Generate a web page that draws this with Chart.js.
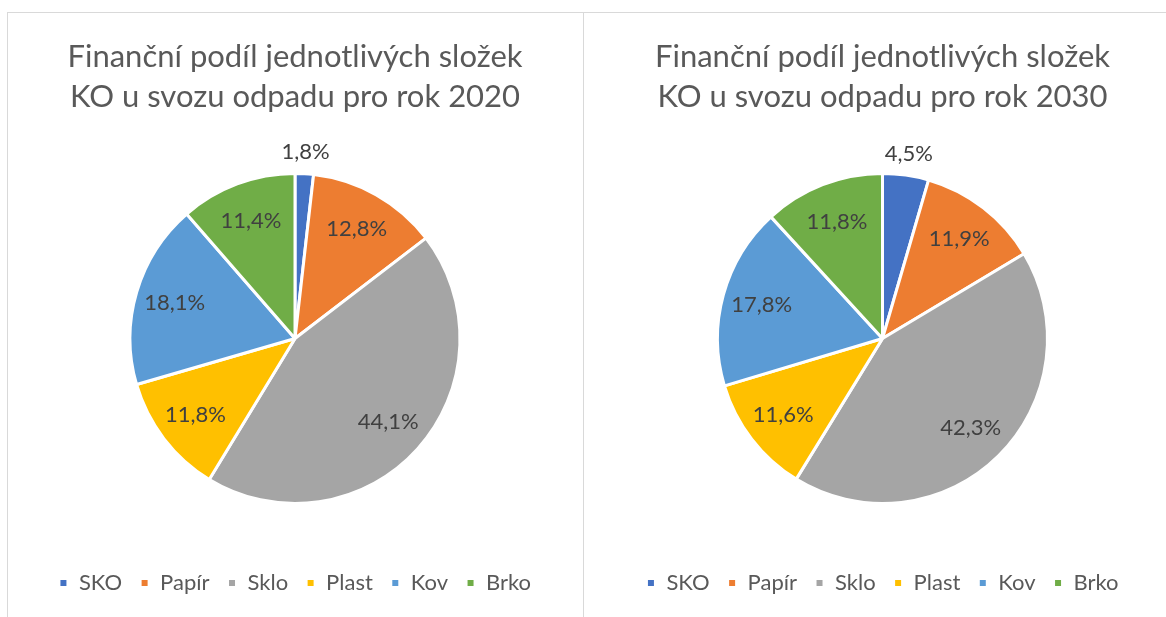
<!DOCTYPE html>
<html>
<head>
<meta charset="utf-8">
<script src="https://cdn.jsdelivr.net/npm/chart.js@4"></script>
<style>
  html, body { margin: 0; padding: 0; background: #fff; }
  body { width: 1166px; height: 617px; position: relative; overflow: hidden; }
  .panel { position: absolute; top: 12px; height: 620px; border: 1.5px solid #d9d9d9; box-sizing: border-box; background: #fff; }
  #p2020 { left: 7px; width: 577px; }
  #p2030 { left: 583px; width: 600px; }
  .panel canvas { position: absolute; left: 0; top: 0; }
</style>
</head>
<body>
<div class="panel" id="p2020"><canvas id="chart2020" width="574" height="604"></canvas></div>
<div class="panel" id="p2030"><canvas id="chart2030" width="597" height="604"></canvas></div>
<script>
// waste components and their share of collection costs (%)
const categories = ['SKO', 'Papír', 'Sklo', 'Plast', 'Kov', 'Brko'];
const share2020 = [1.8, 12.8, 44.1, 11.8, 18.1, 11.4];
const share2030 = [4.5, 11.9, 42.3, 11.6, 17.8, 11.8];
const colors = ['#4472C4', '#ED7D31', '#A5A5A5', '#FFC000', '#5B9BD5', '#70AD47'];

const fontFamily = "Lato, 'Open Sans', sans-serif";

/* labels with the percentage, inside the slice, outside for tiny ones */
const sliceLabels = {
  id: 'sliceLabels',
  afterDatasetsDraw(chart) {
    const ctx = chart.ctx;
    const meta = chart.getDatasetMeta(0);
    const values = chart.data.datasets[0].data;
    ctx.save();
    ctx.font = '22px ' + fontFamily;
    ctx.fillStyle = '#404040';
    ctx.textAlign = 'center';
    ctx.textBaseline = 'middle';
    meta.data.forEach((arc, i) => {
      const p = arc.getProps(['x', 'y', 'startAngle', 'endAngle', 'outerRadius'], true);
      const mid = (p.startAngle + p.endAngle) / 2;
      const f = values[i] < 5 ? 1.13 : 0.76;
      const x = p.x + Math.cos(mid) * p.outerRadius * f;
      const y = p.y + Math.sin(mid) * p.outerRadius * f;
      ctx.fillText(values[i].toFixed(1).replace('.', ',') + '%', x, y);
    });
    ctx.restore();
  }
};

function initChart(target, values, year) {
  return new Chart(target, {
    type: 'pie',
    data: {
      labels: categories,
      datasets: [{
        data: values,
        backgroundColor: colors,
        borderColor: '#ffffff',
        borderWidth: 3
      }]
    },
    options: {
      responsive: false,
      animation: false,
      radius: 165,
      layout: { padding: { top: 0, bottom: 13 } },
      plugins: {
        title: {
          display: true,
          text: ['Finanční podíl jednotlivých složek', 'KO u svozu odpadu pro rok ' + year],
          color: '#595959',
          font: { family: fontFamily, size: 31, weight: 'normal', lineHeight: 1.29 },
          padding: { top: 24, bottom: 6 }
        },
        legend: {
          position: 'bottom',
          labels: {
            color: '#595959',
            font: { family: fontFamily, size: 22 },
            boxWidth: 9,
            boxHeight: 9,
            padding: 18
          }
        },
        tooltip: { enabled: false }
      }
    },
    plugins: [sliceLabels]
  });
}

initChart(document.querySelector('#chart2020'), share2020, 2020);
initChart(document.querySelector('#chart2030'), share2030, 2030);
</script>
</body>
</html>
